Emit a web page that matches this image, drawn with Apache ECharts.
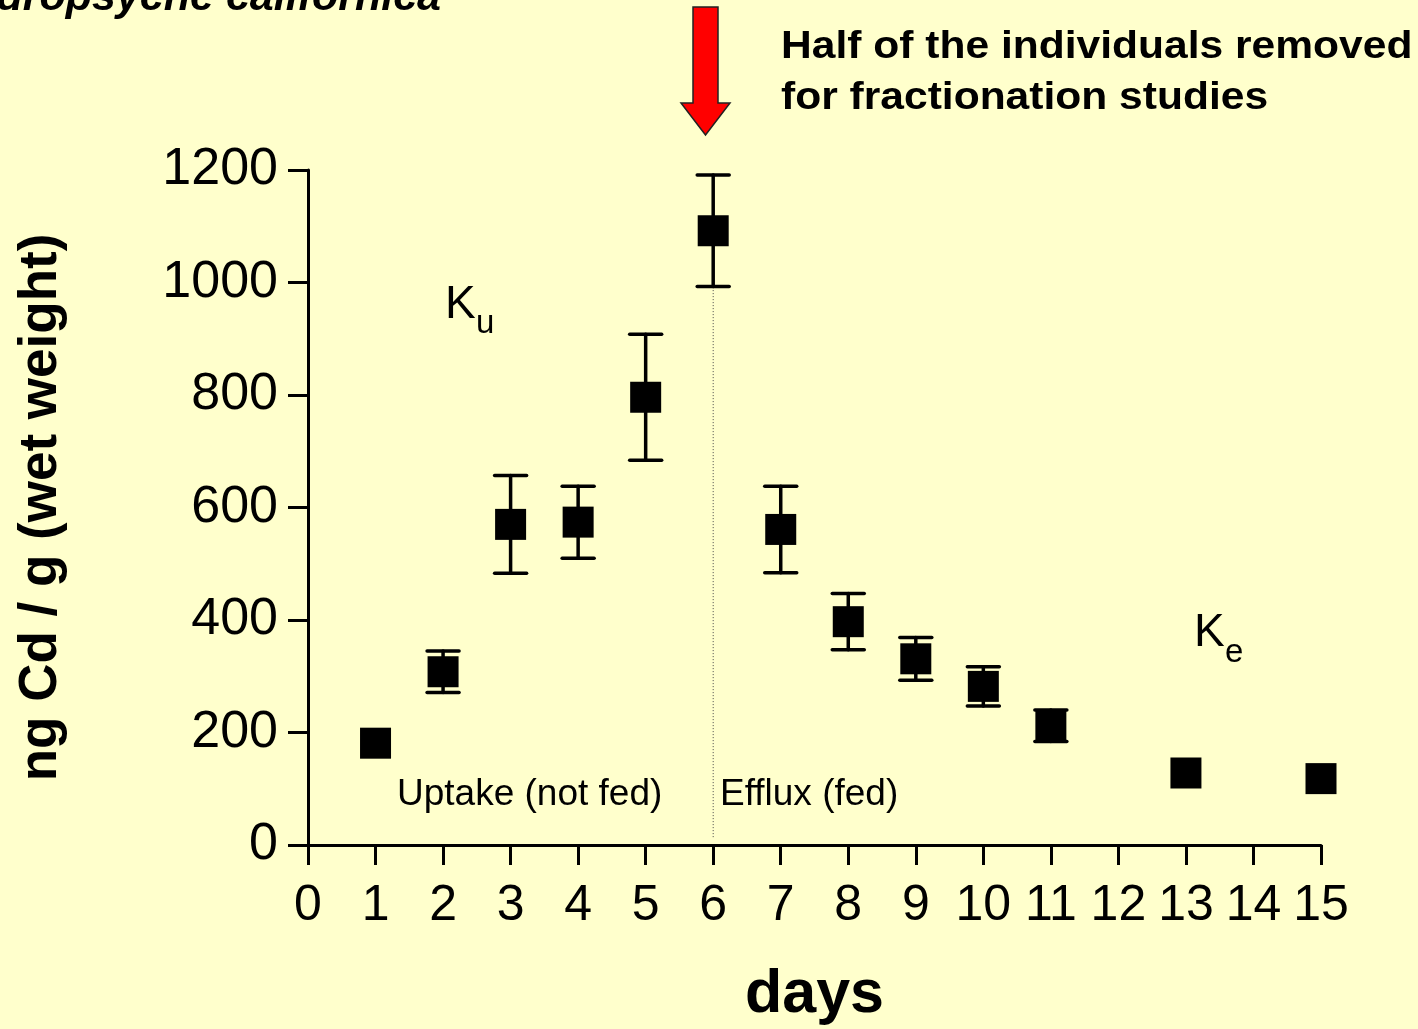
<!DOCTYPE html>
<html>
<head>
<meta charset="utf-8">
<script src="https://cdn.jsdelivr.net/npm/echarts@6/dist/echarts.min.js"></script>
<style>
  html, body { margin: 0; padding: 0; background: #ffffcc; }
  #chart { width: 1418px; height: 1029px; }
</style>
</head>
<body>
<div id="chart"></div>
<script>
// Cadmium body burden of Hydropsyche californica larvae over the experiment
const days = [1, 2, 3, 4, 5, 6, 7, 8, 9, 10, 11, 13, 15];
const cdMean = [181, 308, 570, 574, 796, 1092, 561, 397, 331, 282, 212, 128, 118];
const cdErr = [0, 37, 87, 64, 112, 99, 77, 50, 38, 35, 28, 0, 0];

const xTicks = [0, 1, 2, 3, 4, 5, 6, 7, 8, 9, 10, 11, 12, 13, 14, 15];
const yTicks = [0, 200, 400, 600, 800, 1000, 1200];

// day on which half of the animals were taken out (uptake -> efflux switch)
const switchDay = 6;

const FONT = '"Liberation Sans", Arial, Helvetica, sans-serif';

const points = days.map((d, i) => [d, cdMean[i]]);
const errData = days.map((d, i) => [d, cdMean[i] - cdErr[i], cdMean[i] + cdErr[i]]);

const chart = echarts.init(document.getElementById('chart'));

const option = {
  backgroundColor: '#ffffcc',
  animation: false,
  grid: { left: 308, right: 97, top: 170, bottom: 184, containLabel: false, outerBoundsMode: 'none' },
  xAxis: {
    type: 'value',
    min: xTicks[0],
    max: xTicks[xTicks.length - 1],
    interval: 1,
    name: 'days',
    nameLocation: 'middle',
    nameGap: 120,
    nameTextStyle: { fontFamily: FONT, fontWeight: 'bold', fontSize: 61, color: '#000' },
    axisLine: { lineStyle: { color: '#000', width: 3 } },
    axisTick: { show: true, length: 20, lineStyle: { color: '#000', width: 3 } },
    axisLabel: { fontFamily: FONT, fontSize: 50, color: '#000', margin: 36, formatter: v => String(v) },
    splitLine: { show: false }
  },
  yAxis: {
    type: 'value',
    min: yTicks[0],
    max: yTicks[yTicks.length - 1],
    interval: 200,
    name: 'ng Cd / g (wet weight)',
    nameLocation: 'middle',
    nameRotate: 90,
    nameGap: 240,
    nameTextStyle: { fontFamily: FONT, fontWeight: 'bold', fontSize: 53, color: '#000' },
    axisLine: { show: true, lineStyle: { color: '#000', width: 3 } },
    axisTick: { show: true, length: 20, lineStyle: { color: '#000', width: 3 } },
    axisLabel: { fontFamily: FONT, fontSize: 52, color: '#000', margin: 30, formatter: v => String(v) },
    splitLine: { show: false }
  },
  series: [
    {
      // thin dotted divider between uptake and efflux phases
      type: 'line',
      data: [[switchDay, 14], [switchDay, 994]],
      symbol: 'none',
      silent: true,
      lineStyle: { color: '#444', width: 1, type: [1, 2] },
      z: 1
    },
    {
      // standard-error whiskers with caps
      type: 'custom',
      data: errData,
      z: 3,
      renderItem: function (params, api) {
        const x = api.value(0);
        const lo = api.value(1);
        const hi = api.value(2);
        if (hi - lo <= 0) return null;
        const pLo = api.coord([x, lo]);
        const pHi = api.coord([x, hi]);
        const half = 16;
        const style = { stroke: '#000', lineWidth: 3.5, lineCap: 'round' };
        return {
          type: 'group',
          children: [
            { type: 'line', shape: { x1: pLo[0], y1: pLo[1], x2: pHi[0], y2: pHi[1] }, style: style },
            { type: 'line', shape: { x1: pLo[0] - half, y1: pLo[1], x2: pLo[0] + half, y2: pLo[1] }, style: style },
            { type: 'line', shape: { x1: pHi[0] - half, y1: pHi[1], x2: pHi[0] + half, y2: pHi[1] }, style: style }
          ]
        };
      }
    },
    {
      type: 'scatter',
      data: points,
      symbol: 'rect',
      symbolSize: 31,
      itemStyle: { color: '#000', opacity: 1 },
      z: 4
    }
  ],
  graphic: [
    {
      // species name, running off the top-left edge
      type: 'text',
      x: 441, y: -2,
      style: {
        text: 'Hydropsyche californica',
        font: 'italic bold 43px ' + FONT,
        fill: '#000',
        align: 'right',
        verticalAlign: 'middle'
      }
    },
    {
      // red arrow pointing down at day 6
      type: 'polygon',
      shape: {
        points: [[693, 7], [718, 7], [718, 103], [730, 103], [705.5, 135], [681, 103], [693, 103]]
      },
      style: { fill: '#ff0000', stroke: '#222', lineWidth: 1.5 }
    },
    {
      type: 'text',
      x: 781, y: 67,
      scaleX: 1.12,
      style: {
        text: 'Half of the individuals removed',
        font: 'bold 38px ' + FONT,
        fill: '#000',
        align: 'left',
        verticalAlign: 'bottom'
      }
    },
    {
      type: 'text',
      x: 781, y: 118,
      scaleX: 1.12,
      style: {
        text: 'for fractionation studies',
        font: 'bold 38px ' + FONT,
        fill: '#000',
        align: 'left',
        verticalAlign: 'bottom'
      }
    },
    {
      type: 'text', x: 445, y: 328,
      style: { text: 'K', font: '46px ' + FONT, fill: '#000', align: 'left', verticalAlign: 'bottom' }
    },
    {
      type: 'text', x: 476, y: 340,
      style: { text: 'u', font: '33px ' + FONT, fill: '#000', align: 'left', verticalAlign: 'bottom' }
    },
    {
      type: 'text', x: 1194, y: 656,
      style: { text: 'K', font: '46px ' + FONT, fill: '#000', align: 'left', verticalAlign: 'bottom' }
    },
    {
      type: 'text', x: 1225, y: 669,
      style: { text: 'e', font: '33px ' + FONT, fill: '#000', align: 'left', verticalAlign: 'bottom' }
    },
    {
      type: 'text', x: 397, y: 813,
      style: { text: 'Uptake (not fed)', font: '37px ' + FONT, fill: '#000', align: 'left', verticalAlign: 'bottom' }
    },
    {
      type: 'text', x: 720, y: 813,
      style: { text: 'Efflux (fed)', font: '37px ' + FONT, fill: '#000', align: 'left', verticalAlign: 'bottom' }
    }
  ]
};

chart.setOption(option);
</script>
</body>
</html>
